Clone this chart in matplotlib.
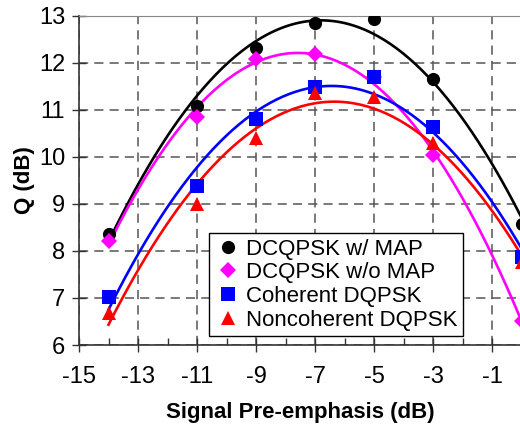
import numpy as np
import matplotlib
matplotlib.use("Agg")
import matplotlib.pyplot as plt
from matplotlib.lines import Line2D

plt.rcParams['font.family'] = ['Liberation Sans', 'DejaVu Sans']
plt.rcParams['axes.unicode_minus'] = False

x = [-14, -11, -9, -7, -5, -3, 0]
q_map = [8.36, 11.08, 12.31, 12.84, 12.94, 11.65, 8.58]
q_nomap = [8.22, 10.84, 12.07, 12.18, 11.70, 10.04, 6.50]
q_coh = [7.01, 9.38, 10.80, 11.49, 11.69, 10.64, 7.87]
q_noncoh = [6.69, 9.00, 10.39, 11.36, 11.28, 10.30, 7.77]

labels = ["DCQPSK w/ MAP", "DCQPSK w/o MAP", "Coherent DQPSK", "Noncoherent DQPSK"]
colors = ["black", "#ff00ff", "#0000ff", "#ff0000"]
markers = ["o", "D", "s", "^"]
msizes = [9.5, 8.5, 9.5, 10.5]
series = [q_map, q_nomap, q_coh, q_noncoh]

fig = plt.figure(figsize=(5.2, 4.28), dpi=100)
ax = fig.add_axes([79/520, 1-345/428, (521.5-79)/520, (345-15.7)/428])

xs = np.linspace(-14, 0, 200)
for ys, c in zip(series, colors):
    p = np.polyfit(x, ys, 2)
    ax.plot(xs, np.polyval(p, xs), color=c, lw=1.9, zorder=3)

handles = []
for ys, c, m, ms, lab in zip(series, colors, markers, msizes, labels):
    ax.plot(x, ys, linestyle='none', marker=m, color=c, markersize=ms,
            markeredgewidth=0, zorder=4)
    handles.append(Line2D([], [], linestyle='none', marker=m, color=c,
                          markersize=ms, markeredgewidth=0, label=lab))

ax.set_xlim(-15, 0)
ax.set_ylim(6, 13)
ax.set_xticks(np.arange(-15, 0, 2))
ax.set_xticks(np.arange(-14, 0, 2), minor=True)
ax.set_yticks(np.arange(6, 14, 1))
ax.tick_params(axis='both', which='major', direction='inout', length=10,
               width=1, color='#333333', labelsize=17)
ax.tick_params(axis='x', which='minor', direction='in', length=5, width=1,
               color='#333333')
ax.tick_params(axis='x', pad=10)
ax.tick_params(axis='y', pad=5)

ax.grid(True, which='major', linestyle=(0, (6, 4)), color='#555555', lw=1.1)
ax.set_axisbelow(True)
for s in ['left', 'bottom']:
    ax.spines[s].set_color('#333333')
    ax.spines[s].set_linewidth(1.2)
ax.spines['top'].set_color('#888888')
ax.spines['right'].set_visible(False)

ax.set_xlabel("Signal Pre-emphasis (dB)", fontsize=16, fontweight='bold', labelpad=10)
ax.set_ylabel("Q (dB)", fontsize=16, fontweight='bold', labelpad=3)

leg = ax.legend(handles=handles, loc='lower left', bbox_to_anchor=(0.294, 0.027),
                fontsize=16, frameon=True, fancybox=False, edgecolor='black',
                framealpha=1, borderpad=0.25, labelspacing=0.12,
                handletextpad=0.2, handlelength=1.2, borderaxespad=0)
leg.get_frame().set_linewidth(1.0)

fig.savefig("out.png", dpi=100)
